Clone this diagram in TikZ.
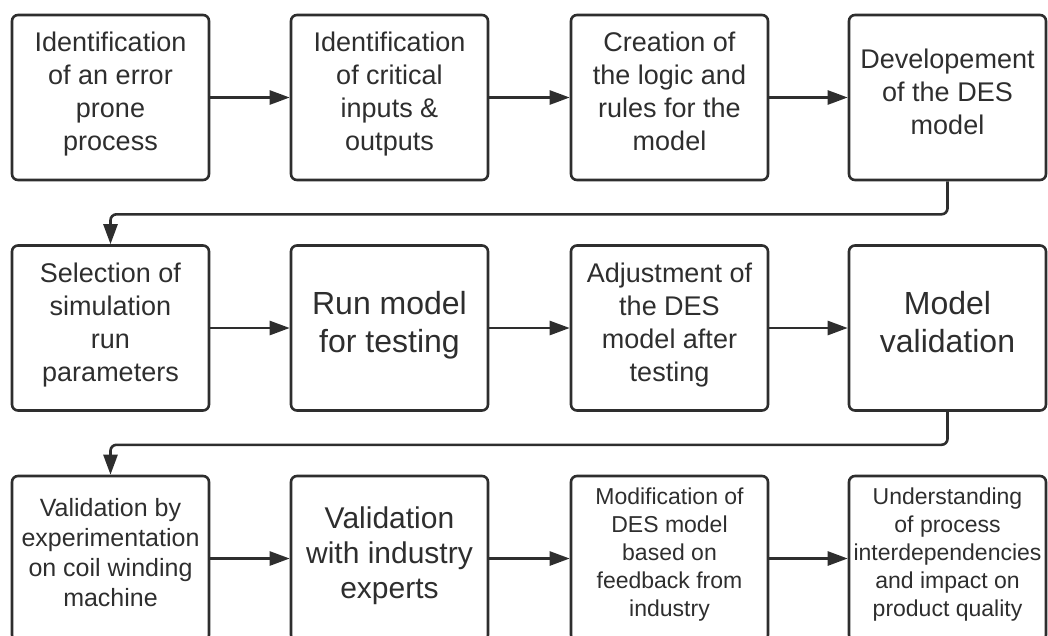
\documentclass[tikz,border=0pt]{standalone}
\usepackage{fontspec}
\setmainfont{Liberation Sans}
\usetikzlibrary{math,arrows.meta}
\definecolor{ink}{HTML}{2E2E2E}

\begin{document}
\begin{tikzpicture}[x=1pt, y=1pt,
    stepbox/.style={draw=ink, text=ink, line width=2.6pt, rounded corners=6pt,
        minimum width=197pt, minimum height=165pt, inner sep=1pt, align=center,
        font=\fontsize{27}{33}\selectfont,
        execute at end node={\rule[-12pt]{0pt}{12pt}}},
    bigtext/.style={font=\fontsize{32}{38}\selectfont},
    midtext/.style={font=\fontsize{30}{35}\selectfont},
    lowtext/.style={font=\fontsize{25}{30}\selectfont},
    smalltext/.style={font=\fontsize{23}{28}\selectfont},
    flow/.style={draw=ink, line width=2.6pt, rounded corners=6pt,
        -{Triangle[length=20pt,width=14pt]}}]
    \tikzmath{\cA = 110.5; \cB = 389.5; \cC = 669.5; \cD = 947.5;
              \rA = -97.5; \rB = -328; \rC = -558.5; \drop = 33;}
    \useasboundingbox (0,0) rectangle (1048,-635);

    % first row
    \node[stepbox] (id1) at (\cA, \rA) {Identification\\of an error\\prone\\process};
    \node[stepbox] (id2) at (\cB, \rA) {Identification\\of critical\\inputs \&\\outputs};
    \node[stepbox] (logic) at (\cC, \rA) {Creation of\\the logic and\\rules for the\\model};
    \node[stepbox] (dev) at (\cD, \rA) {Developement\\of the DES\\model};
    \draw[flow] (id1) -- (id2);
    \draw[flow] (id2) -- (logic);
    \draw[flow] (logic) -- (dev);

    % second row
    \node[stepbox] (sel) at (\cA, \rB) {Selection of\\simulation\\run\\parameters};
    \node[stepbox, bigtext] (run) at (\cB, \rB) {Run model\\for testing};
    \node[stepbox] (adj) at (\cC, \rB) {Adjustment of\\the DES\\model after\\testing};
    \node[stepbox, bigtext] (mval) at (\cD, \rB) {Model\\validation};
    \draw[flow] (dev.south) -- ++(0,-\drop) -| (sel.north);
    \draw[flow] (sel) -- (run);
    \draw[flow] (run) -- (adj);
    \draw[flow] (adj) -- (mval);

    % third row
    \node[stepbox, lowtext] (exp) at (\cA, \rC) {Validation by\\experimentation\\on coil winding\\machine};
    \node[stepbox, midtext] (ind) at (\cB, \rC) {Validation\\with industry\\experts};
    \node[stepbox, smalltext] (mod) at (\cC, \rC) {Modification of\\DES model\\based on\\feedback from\\industry};
    \node[stepbox, smalltext] (und) at (\cD, \rC) {Understanding\\of process\\interdependencies\\and impact on\\product quality};
    \draw[flow] (mval.south) -- ++(0,-\drop) -| (exp.north);
    \draw[flow] (exp) -- (ind);
    \draw[flow] (ind) -- (mod);
    \draw[flow] (mod) -- (und);
\end{tikzpicture}
\end{document}
